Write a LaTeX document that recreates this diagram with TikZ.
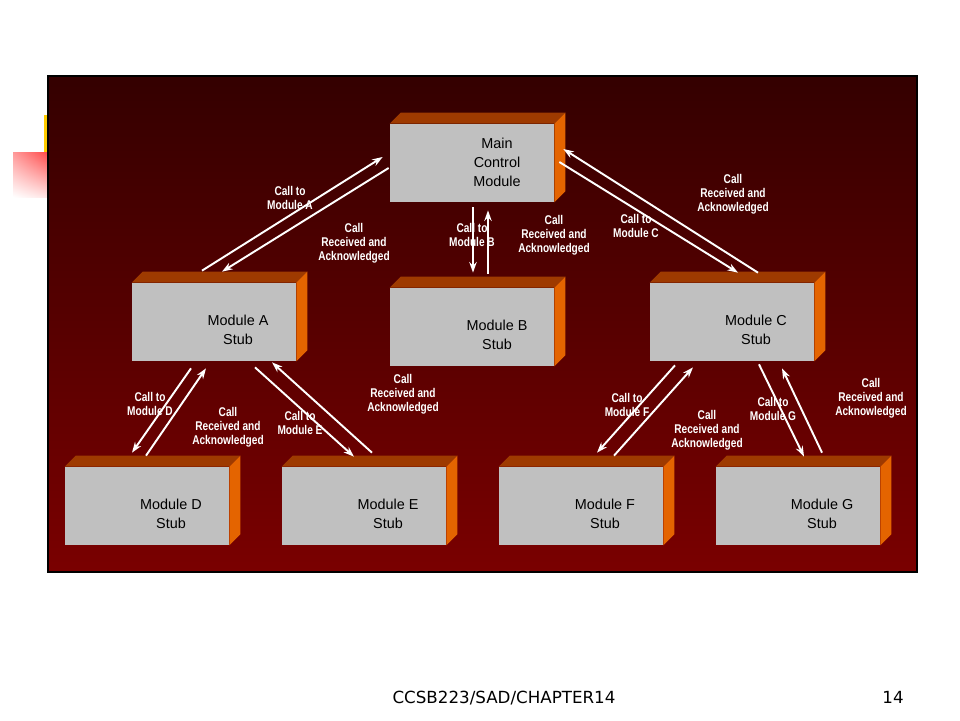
\documentclass[tikz,border=0pt]{standalone}
\usepackage{fontspec}
\setmainfont{Liberation Sans}
\newfontfamily\callfont[FakeStretch=0.8]{Liberation Sans Bold}
\newfontfamily\footfont{DejaVu Sans}
\usetikzlibrary{positioning, arrows.meta, calc, shadings}
\definecolor{stubgray}{RGB}{192,192,192}
\definecolor{stubtop}{RGB}{158,58,0}
\definecolor{stubside}{RGB}{228,100,0}
\definecolor{paneltop}{RGB}{52,0,0}
\definecolor{panelbot}{RGB}{122,0,0}
\definecolor{titlebar}{RGB}{255,204,0}
\definecolor{titlered}{RGB}{255,70,70}

\begin{document}
\begin{tikzpicture}[x=0.02cm, y=-0.02cm,
  stub/.style={fill=stubgray, inner sep=0pt, minimum width=3.28cm, minimum height=1.56cm},
  stubtext/.style={align=center, font=\fontsize{8.2}{10.8}\selectfont},
  callnote/.style={align=center, text=white, inner sep=0pt, font=\callfont\fontsize{7.2}{8.1}\selectfont},
  msg/.style={draw=white, line width=1.1pt, -{Stealth[length=6pt, width=4.2pt]}}]
\fill[white] (0,0) rectangle (960,720);
\useasboundingbox (0,0) rectangle (960,720);
% what is left of the slide title
\fill[titlebar] (44,115) rectangle (49,152);
\shade[upper left=titlered!55!white, upper right=titlered, lower left=white, lower right=titlered!15!white] (13,152) rectangle (49,197);
\shade[draw=black, line width=1.2pt, top color=paneltop, bottom color=panelbot] (48,76) rectangle (917,572);

% boxes
\node[stub] (main) at (472,163) {};
\node[stub] (A) at (214,322) {};
\node[stub] (B) at (472,327) {};
\node[stub] (C) at (732,322) {};
\node[stub] (D) at (147,506) {};
\node[stub] (E) at (364,506) {};
\node[stub] (F) at (581,506) {};
\node[stub] (G) at (798,506) {};
\foreach \b in {main,A,B,C,D,E,F,G} {
  \fill[stubtop] (\b.north west) -- ++(11,-11) -- ($(\b.north east)+(11,-11)$) -- (\b.north east) -- cycle;
  \fill[stubside] (\b.north east) -- ++(11,-11) -- ($(\b.south east)+(11,-11)$) -- (\b.south east) -- cycle;
}
\node[stubtext] (mainname) at (497,162) {Main\\Control\\Module};
\node[stubtext] (Aname) at (238,330) {Module A\\Stub};
\node[stubtext] (Bname) at (497,335) {Module B\\Stub};
\node[stubtext] (Cname) at (756,330) {Module C\\Stub};
\node[stubtext] (Dname) at (171,514) {Module D\\Stub};
\node[stubtext] (Ename) at (388,514) {Module E\\Stub};
\node[stubtext] (Fname) at (605,514) {Module F\\Stub};
\node[stubtext] (Gname) at (822,514) {Module G\\Stub};

% calls and answers
\draw[msg] ($(A.north)+(-12,-12)$) -- ($(main.west)+(-7,-6)$);
\draw[msg] ($(main.west)+(-1,5)$) -- ($(A.north)+(8,-11)$);
\draw[msg] ($(main.south)+(1,5)$) -- ($(B.north)+(1,-15)$);
\draw[msg] ($(B.north)+(16,-14)$) -- ($(main.south)+(16,8)$);
\draw[msg] ($(main.east)+(5,-1)$) -- ($(C.north)+(6,-10)$);
\draw[msg] ($(C.north)+(26,-10)$) -- ($(main.east)+(9,-14)$);
\draw[msg] ($(A.south)+(-23,7)$) -- ($(D.north)+(-15,-14)$);
\draw[msg] ($(D.north)+(-1,-11)$) -- ($(A.south)+(-8,7)$);
\draw[msg] ($(A.south)+(41,6)$) -- ($(E.north)+(-10,-10)$);
\draw[msg] ($(E.north)+(8,-14)$) -- ($(A.south)+(58,1)$);
\draw[msg] ($(C.south)+(-57,4)$) -- ($(F.north)+(16,-14)$);
\draw[msg] ($(F.north)+(33,-11)$) -- ($(C.south)+(-39,6)$);
\draw[msg] ($(C.south)+(27,3)$) -- ($(G.north)+(6,-10)$);
\draw[msg] ($(G.north)+(24,-14)$) -- ($(C.south)+(50,7)$);

\node[callnote] (callA) at (290,198) {Call to\\Module A};
\node[callnote] (ackA) at (354,243) {Call\\Received and\\Acknowledged};
\node[callnote] (callB) at (472,235) {Call to\\Module B};
\node[callnote] (ackB) at (554,235) {Call\\Received and\\Acknowledged};
\node[callnote] (callC) at (636,226) {Call to\\Module C};
\node[callnote] (ackC) at (733,194) {Call\\Received and\\Acknowledged};
\node[callnote] (callD) at (150,404) {Call to\\Module D};
\node[callnote] (ackD) at (228,427) {Call\\Received and\\Acknowledged};
\node[callnote] (callE) at (300,423) {Call to\\Module E};
\node[callnote] (ackE) at (403,394) {Call\\Received and\\Acknowledged};
\node[callnote] (callF) at (627,405) {Call to\\Module F};
\node[callnote] (ackF) at (707,430) {Call\\Received and\\Acknowledged};
\node[callnote] (callG) at (773,409) {Call to\\Module G};
\node[callnote] (ackG) at (871,398) {Call\\Received and\\Acknowledged};

% footer
\node[anchor=base, font=\footfont\fontsize{9.5}{11}\selectfont] (foot) at (504,703) {CCSB223/SAD/CHAPTER14};
\node[anchor=base, font=\footfont\fontsize{9.5}{11}\selectfont] (page) at (893,703) {14};
\end{tikzpicture}
\end{document}
